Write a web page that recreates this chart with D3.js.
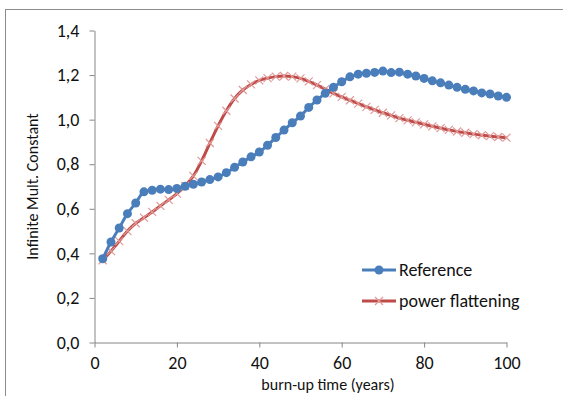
<!DOCTYPE html>
<html>
<head>
<meta charset="utf-8">
<script src="https://cdn.jsdelivr.net/npm/d3@7"></script>
<style>
  body { margin: 0; background: #fff; }
  svg { display: block; }
</style>
</head>
<body>
<div id="chart"></div>
<script>
// burn-up time (years), one point every 2 years
const years = d3.range(2, 101, 2);

const referenceValues = [
  0.376, 0.451, 0.514, 0.578, 0.626, 0.676, 0.683, 0.688, 0.686, 0.691,
  0.701, 0.710, 0.720, 0.731, 0.743, 0.762, 0.786, 0.810, 0.833, 0.855,
  0.885, 0.920, 0.953, 0.986, 1.016, 1.055, 1.088, 1.118, 1.145, 1.170,
  1.192, 1.204, 1.208, 1.212, 1.218, 1.211, 1.213, 1.204, 1.196, 1.185,
  1.174, 1.165, 1.155, 1.145, 1.136, 1.129, 1.120, 1.115, 1.106, 1.100
];

const flatteningValues = [
  0.369, 0.410, 0.455, 0.500, 0.535, 0.560, 0.586, 0.613, 0.640, 0.668,
  0.703, 0.748, 0.815, 0.895, 0.972, 1.040, 1.095, 1.133, 1.158, 1.176,
  1.186, 1.193, 1.196, 1.193, 1.185, 1.172, 1.155, 1.137, 1.118, 1.102,
  1.087, 1.072, 1.057, 1.044, 1.031, 1.019, 1.007, 0.997, 0.988, 0.979,
  0.970, 0.962, 0.954, 0.947, 0.941, 0.935, 0.930, 0.926, 0.922, 0.919
];

const xTicks = [0, 20, 40, 60, 80, 100];
const yTicks = [0, 0.2, 0.4, 0.6, 0.8, 1.0, 1.2, 1.4];
const seriesNames = ["Reference", "power flattening"];

const width = 563, height = 396;
const font = "Carlito, Lato, 'Open Sans', sans-serif";
const ink = "#111";

const svg = d3.select("#chart").append("svg")
  .attr("width", width)
  .attr("height", height);

// outer chart frame (cropped at right and bottom)
svg.append("rect")
  .attr("x", 5.5).attr("y", 9.5)
  .attr("width", 700).attr("height", 500)
  .attr("fill", "#fff")
  .attr("stroke", "#8c8c8c")
  .attr("stroke-width", 1);

const x = d3.scaleLinear().domain([0, 100]).range([94.5, 506.5]);
const y = d3.scaleLinear().domain([0, 1.4]).range([342.5, 30.5]);

const fmt = d => d3.format(".1f")(d).replace(".", ",");

// y axis
const yAxis = svg.append("g")
  .attr("transform", `translate(${x(0)},0)`)
  .call(d3.axisLeft(y).tickValues(yTicks).tickFormat(fmt).tickSize(5).tickSizeOuter(0).tickPadding(10));
yAxis.select(".domain").attr("stroke", "#868686");
yAxis.selectAll("line").attr("stroke", "#868686");
yAxis.selectAll("text")
  .attr("fill", ink)
  .style("font-family", font)
  .style("font-size", "18px");

// x axis
const xAxis = svg.append("g")
  .attr("transform", `translate(0,${y(0)})`)
  .call(d3.axisBottom(x).tickValues(xTicks).tickSize(5).tickSizeOuter(0).tickPadding(9));
xAxis.select(".domain").attr("stroke", "#868686");
xAxis.selectAll("line").attr("stroke", "#868686");
xAxis.selectAll("text")
  .attr("fill", ink)
  .style("font-family", font)
  .style("font-size", "18px");

// axis titles
svg.append("text")
  .attr("x", 328).attr("y", 390)
  .attr("text-anchor", "middle")
  .attr("fill", ink)
  .style("font-family", font)
  .style("font-size", "16px")
  .text("burn-up time (years)");

svg.append("text")
  .attr("transform", `translate(38,${y(0.7)}) rotate(-90)`)
  .attr("text-anchor", "middle")
  .attr("fill", ink)
  .style("font-family", font)
  .style("font-size", "16px")
  .text("Infinite Mult. Constant");

const refData = years.map((t, i) => ({ t, v: referenceValues[i] }));
const flatData = years.map((t, i) => ({ t, v: flatteningValues[i] }));

const line = d3.line()
  .x(d => x(d.t))
  .y(d => y(d.v))
  .curve(d3.curveCatmullRom.alpha(0.5));

const blue = "#4a7ebb";
const red = "#be4b48";
const cross = "#e09a98";

// power flattening (red, x markers)
svg.append("path")
  .datum(flatData)
  .attr("fill", "none")
  .attr("stroke", red)
  .attr("stroke-width", 3)
  .attr("d", line);

const crossPath = (cx, cy, s) =>
  `M${cx - s},${cy - s}L${cx + s},${cy + s}M${cx - s},${cy + s}L${cx + s},${cy - s}`;

svg.append("g").selectAll("path")
  .data(flatData)
  .enter().append("path")
  .attr("d", d => crossPath(x(d.t), y(d.v), 4))
  .attr("stroke", cross)
  .attr("stroke-width", 1.2)
  .attr("fill", "none");

// reference (blue, circles)
svg.append("path")
  .datum(refData)
  .attr("fill", "none")
  .attr("stroke", blue)
  .attr("stroke-width", 3)
  .attr("d", line);

svg.append("g").selectAll("circle")
  .data(refData)
  .enter().append("circle")
  .attr("cx", d => x(d.t))
  .attr("cy", d => y(d.v))
  .attr("r", 4.5)
  .attr("fill", blue);

// legend
const legend = svg.append("g").attr("transform", "translate(362,270)");
const legendRows = [
  { name: seriesNames[0], color: blue, marker: "circle" },
  { name: seriesNames[1], color: red, marker: "cross" }
];
legendRows.forEach((row, i) => {
  const g = legend.append("g").attr("transform", `translate(0,${i * 31})`);
  g.append("line")
    .attr("x1", 0).attr("x2", 34)
    .attr("y1", 0).attr("y2", 0)
    .attr("stroke", row.color)
    .attr("stroke-width", 3);
  if (row.marker === "circle") {
    g.append("circle").attr("cx", 17).attr("cy", 0).attr("r", 4.5).attr("fill", row.color);
  } else {
    g.append("path").attr("d", crossPath(17, 0, 4))
      .attr("stroke", cross).attr("stroke-width", 1.2).attr("fill", "none");
  }
  g.append("text")
    .attr("x", 37).attr("y", 6)
    .attr("fill", ink)
    .style("font-family", font)
    .style("font-size", "18px")
    .text(row.name);
});
</script>
</body>
</html>
